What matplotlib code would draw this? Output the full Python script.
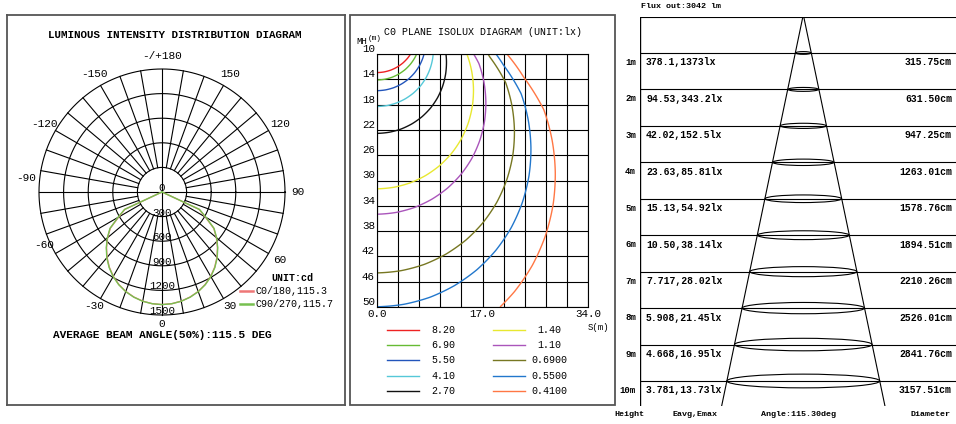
import numpy as np
import matplotlib
matplotlib.use('Agg')
import matplotlib.pyplot as plt
from matplotlib.patches import Ellipse, Rectangle

plt.rcParams['font.family'] = ['Liberation Mono', 'DejaVu Sans Mono']

# ---- data ----
gamma = np.arange(0, 95, 5)   # deg from nadir
i_c0 = np.array([1373, 1367, 1352, 1326, 1291, 1245, 1188, 1120, 1043, 957,
                 866, 770, 610, 500, 0, 0, 0, 0, 0])
i_c90 = np.array([1373, 1368, 1353, 1328, 1293, 1248, 1191, 1124, 1047, 961,
                  870, 775, 620, 505, 0, 0, 0, 0, 0])
ring_vals = [0, 300, 600, 900, 1200, 1500]
angle_marks = [0, 30, 60, 90, 120, 150, 180, -150, -120, -90, -60, -30]
angle_text = ['0', '30', '60', '90', '120', '150', '-/+180', '-150', '-120', '-90', '-60', '-30']
beam_c0, beam_c90, beam_avg = 115.3, 115.7, 115.5

lux_levels = [8.20, 6.90, 5.50, 4.10, 2.70, 1.40, 1.10, 0.69, 0.55, 0.41]
lux_text = ['8.20', '6.90', '5.50', '4.10', '2.70', '1.40', '1.10', '0.6900', '0.5500', '0.4100']
lux_colors = ['#ee2222', '#66bb33', '#2255bb', '#55c8d8', '#111111',
              '#e8e830', '#aa55bb', '#777722', '#2277cc', '#ff7744']

heights = np.arange(1, 11)
e_avg = ['378.1', '94.53', '42.02', '23.63', '15.13', '10.50', '7.717', '5.908', '4.668', '3.781']
e_max = ['1373', '343.2', '152.5', '85.81', '54.92', '38.14', '28.02', '21.45', '16.95', '13.73']
diam_cm = np.array([315.75, 631.50, 947.25, 1263.01, 1578.76, 1894.51,
                    2210.26, 2526.01, 2841.76, 3157.51])
flux = 3042

W, H = 956, 424
fig = plt.figure(figsize=(W / 100, H / 100), dpi=100)

def px_axes(x0, y0, x1, y1):
    return fig.add_axes([x0 / W, 1 - y1 / H, (x1 - x0) / W, (y1 - y0) / H])

# ================= polar panel (drawn in cd units) =================
cx, cy = 162, 192
k = 300 / 24.6   # cd per pixel
ax1 = px_axes(7, 15, 345, 405)
ax1.set_xlim((7 - cx) * k, (345 - cx) * k)
ax1.set_ylim(-(405 - cy) * k, (cy - 15) * k)
ax1.set_xticks([]); ax1.set_yticks([])
for s in ax1.spines.values():
    s.set_color('#555555'); s.set_linewidth(1.3)

t = np.linspace(0, 2 * np.pi, 361)
for r in ring_vals[1:]:
    ax1.plot(r * np.cos(t), r * np.sin(t), color='black', lw=0.8)
rmax = ring_vals[-1]
for a in range(0, 360, 10):
    ar = np.radians(a)
    if a % 90 == 0:
        ax1.plot([0, rmax * np.sin(ar)], [0, -rmax * np.cos(ar)], color='black', lw=0.8)
    else:
        ax1.plot([300 * np.sin(ar), rmax * np.sin(ar)],
                 [-300 * np.cos(ar), -rmax * np.cos(ar)], color='black', lw=0.8)

for vals, col in [(i_c0, '#ee7777'), (i_c90, '#77c050')]:
    th = np.radians(np.concatenate([-gamma[::-1], gamma[1:]]))
    iv = np.concatenate([vals[::-1], vals[1:]])
    ax1.plot(iv * np.sin(th), -iv * np.cos(th), color=col, lw=1.0, zorder=3)

for r in ring_vals:
    ax1.text(0, -r + 50, str(r), ha='center', va='center', fontsize=7.8, zorder=4)

lab_dy = {-90: 14, -60: 15, 30: 4, -30: 4, 0: 4}
for a, s in zip(angle_marks, angle_text):
    ar = np.radians(a)
    R = 1660
    x = R * np.sin(ar)
    y = -R * np.cos(ar) + lab_dy.get(a, 0) * k
    ax1.text(x, y, s, ha='center', va='center', fontsize=8)

# ================= isolux panel =================
ax2 = px_axes(377, 54, 588, 307)
ax2.set_xlim(0, 34)
ax2.set_ylim(50, 10)
for v in np.arange(0, 34.01, 3.4):
    ax2.axvline(v, color='black', lw=0.8, zorder=1)
for hv in range(10, 51, 4):
    ax2.axhline(hv, color='black', lw=0.8, zorder=1)

S, Hm = np.meshgrid(np.linspace(0, 34, 500), np.linspace(10, 50, 500))
theta = np.degrees(np.arctan2(S, Hm))
E = np.interp(theta, gamma, i_c0) * np.cos(np.radians(theta)) ** 3 / Hm ** 2
order = np.argsort(lux_levels)
ax2.contour(S, Hm, E, levels=[lux_levels[i] for i in order],
            colors=[lux_colors[i] for i in order], linewidths=1.0, zorder=2)

ax2.set_xticks([0, 17, 34])
ax2.set_xticklabels(['0.0', '17.0', '34.0'])
ax2.set_yticks(range(10, 51, 4))
ax2.tick_params(length=0, pad=1.5, labelsize=7.8)
for lab in ax2.get_yticklabels():
    lab.set_verticalalignment('bottom')
for s in ax2.spines.values():
    s.set_linewidth(0.8)

# ================= cone table =================
ppm = 36.45          # px per metre row
cm_px = 20.66        # cm per px
apex_x = 803.3
ax3 = px_axes(640, 16.5, 956, 406)
hbot = (406 - 16.5) / ppm
ax3.set_ylim(hbot, 0)
ax3.set_xlim(-(apex_x - 640) * cm_px, (956 - apex_x) * cm_px)
ax3.axis('off')
ax3.hlines(np.concatenate([[0], heights]), -(apex_x - 640) * cm_px,
           (956 - apex_x) * cm_px, color='black', lw=0.8)
ax3.axvline(-(apex_x - 640) * cm_px, color='black', lw=1.0)
half_per_m = diam_cm[-1] / 2 / heights[-1]
for sgn in (-1, 1):
    ax3.plot([0, sgn * half_per_m * hbot], [-0.05, hbot], color='black', lw=0.8)
for hv, d in zip(heights, diam_cm):
    eh = (0.08 * d / cm_px + 1.5) / ppm
    ax3.add_patch(Ellipse((0, hv), d, eh, fill=False, ec='black', lw=0.8))

tr = ax3.get_yaxis_transform()
for hv, ea, em, d in zip(heights, e_avg, e_max, diam_cm):
    y = hv + 0.26
    ax3.text(-0.013, y, f'{hv}m', transform=tr, ha='right', va='center',
             fontsize=6.5, fontweight='bold', clip_on=False)
    ax3.text(0.019, y, f'{ea},{em}lx', transform=tr, ha='left', va='center',
             fontsize=7, fontweight='bold')
    ax3.text(0.987, y, f'{d:.2f}cm', transform=tr, ha='right', va='center',
             fontsize=7, fontweight='bold')

# ================= overlay in pixel coords =================
ov = fig.add_axes([0, 0, 1, 1])
ov.set_xlim(0, W); ov.set_ylim(H, 0); ov.axis('off')
ov.patch.set_alpha(0)
ov.add_patch(Rectangle((350.5, 15), 265, 390, fill=False, ec='#555555', lw=1.3))

ov.text(175, 35, 'LUMINOUS INTENSITY DISTRIBUTION DIAGRAM', ha='center', va='center',
        fontsize=7.8, fontweight='bold')
ov.text(162, 335, f'AVERAGE BEAM ANGLE(50%):{beam_avg} DEG', ha='center', va='center',
        fontsize=8, fontweight='bold')
ov.text(292, 278, 'UNIT:cd', ha='center', va='center', fontsize=7.2, fontweight='bold')
ov.plot([240, 253], [291, 291], color='#ee7777', lw=1.8)
ov.plot([240, 253], [304, 304], color='#77c050', lw=1.8)
ov.text(256, 291, f'C0/180,{beam_c0}', ha='left', va='center', fontsize=7.2)
ov.text(256, 304, f'C90/270,{beam_c90}', ha='left', va='center', fontsize=7.2)

ov.text(483, 32, 'C0 PLANE ISOLUX DIAGRAM (UNIT:lx)', ha='center', va='center', fontsize=7.2)
ov.text(356, 41, 'MH', ha='left', va='center', fontsize=6.5)
ov.text(368, 39, '(m)', ha='left', va='center', fontsize=5.5)
ov.text(588, 327, 'S(m)', ha='left', va='center', fontsize=6.5)

for i, (col, txt) in enumerate(zip(lux_colors, lux_text)):
    c, r = divmod(i, 5)
    y = 330 + r * 15.2
    x0 = 387 + c * 106
    ov.plot([x0, x0 + 32], [y, y], color=col, lw=1.0)
    ov.text(443.5 + c * 105.5, y, txt, ha='center', va='center', fontsize=7.2)

ov.text(641, 7, f'Flux out:{flux} lm', ha='left', va='center', fontsize=6, fontweight='bold')
ov.text(614, 415, 'Height', ha='left', va='center', fontsize=6, fontweight='bold')
ov.text(673, 415, 'Eavg,Emax', ha='left', va='center', fontsize=6, fontweight='bold')
ov.text(761, 415, f'Angle:{beam_c0:.2f}deg', ha='left', va='center', fontsize=6, fontweight='bold')
ov.text(951, 415, 'Diameter', ha='right', va='center', fontsize=6, fontweight='bold')

fig.savefig('out.png', dpi=100)
